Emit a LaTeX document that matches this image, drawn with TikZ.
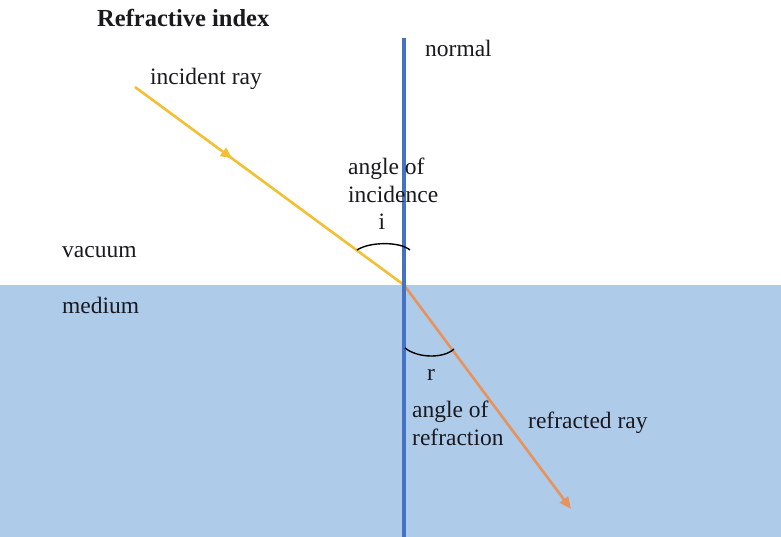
\documentclass[tikz,border=0pt]{standalone}
\usepackage{fontspec}
\setmainfont{Liberation Serif}
\usetikzlibrary{arrows.meta,decorations.markings}
\definecolor{normalblue}{RGB}{68,114,196}
\definecolor{mediumfill}{RGB}{174,203,234}
\definecolor{incyellow}{RGB}{242,192,50}
\definecolor{refrorange}{RGB}{232,146,92}
\definecolor{txt}{RGB}{25,25,30}
\tikzset{
  lbl/.style={inner sep=0pt, anchor=base west, text=txt, font=\fontsize{23.5}{28}\selectfont, align=left},
  ray/.style={line width=2.6pt},
  anglearc/.style={line width=1.4pt, black},
}
\begin{document}
\begin{tikzpicture}[x=1pt,y=-1pt]
\useasboundingbox (0,0) rectangle (781,537);
\fill[white] (0,0) rectangle (781,537);
% medium
\fill[mediumfill] (0,285) rectangle (781,537);
% coordinates
\coordinate (inStart) at (135,87);
\coordinate (hit) at (404,285);
\coordinate (outEnd) at (571,509);
\coordinate (nTop) at (404,38);
\coordinate (nBot) at (404,537);
% incident ray
\draw[ray, incyellow, postaction={decorate},
  decoration={markings, mark=at position 0.36 with {\arrow{Triangle[length=11pt,width=10pt]}}}]
  (inStart) -- (hit);
% refracted ray
\draw[ray, refrorange, -{Triangle[length=12pt,width=10pt]}] (hit) -- (outEnd);
% normal
\draw[normalblue, line width=4.5pt] (nTop) -- (nBot);
% angle arcs
\draw[anglearc] (357,250) .. controls (370,241.5) and (400,241.5) .. (410,250);
\draw[anglearc] (405,348) .. controls (418,358.5) and (444,358.5) .. (454,349);
% labels
\node[lbl, font=\bfseries\fontsize{24.5}{28}\selectfont] (title) at (97,27) {Refractive index};
\node[lbl] (incl) at (150,85) {incident ray};
\node[lbl] (norml) at (425,57) {normal};
\node[lbl] (aoi) at (348,203) {angle of\\incidence};
\node[lbl, anchor=base] (il) at (382,230) {i};
\node[lbl] (vac) at (62,258) {vacuum};
\node[lbl] (med) at (62,313) {medium};
\node[lbl, anchor=base] (rl) at (431,380) {r};
\node[lbl] (aor) at (412,445) {angle of\\refraction};
\node[lbl] (refl) at (528,428) {refracted ray};
\end{tikzpicture}
\end{document}
